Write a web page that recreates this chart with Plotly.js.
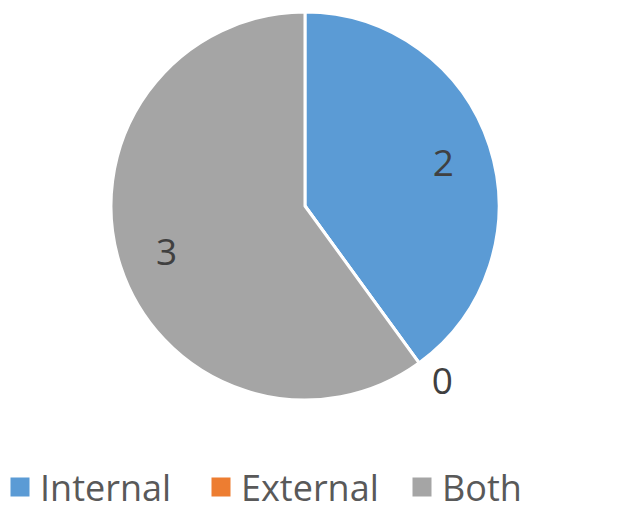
<!DOCTYPE html>
<html>
<head>
<meta charset="utf-8">
<script src="https://cdn.plot.ly/plotly-3.0.1.min.js"></script>
<style>html,body{margin:0;padding:0;background:#fff;}#chart{width:618px;height:518px;}</style>
</head>
<body>
<div id="chart"></div>
<script>
const categories = ["Internal", "External", "Both"];
const values = [2, 0, 3];
const colors = ["#5B9BD5", "#ED7D31", "#A5A5A5"];

const pieDomain = { x: [0, 0.987], y: [0, 1] };

// Full pie with fills, borders and legend
const basePie = {
  type: "pie",
  labels: categories,
  values: values,
  sort: false,
  direction: "clockwise",
  rotation: 0,
  marker: { colors: colors, line: { color: "#FFFFFF", width: 3 } },
  textinfo: "none",
  automargin: false,
  showlegend: true,
  domain: pieDomain,
  hoverinfo: "label+value"
};

// Transparent ring on top carrying only the data labels, pushed outward like the original
const labelPie = {
  type: "pie",
  labels: categories,
  values: values,
  sort: false,
  direction: "clockwise",
  rotation: 0,
  hole: 0.5,
  marker: { colors: ["rgba(0,0,0,0)", "rgba(0,0,0,0)", "rgba(0,0,0,0)"], line: { width: 0 } },
  textinfo: "value",
  textposition: ["inside", "outside", "inside"],
  insidetextorientation: "horizontal",
  textfont: { family: "Open Sans, sans-serif", size: 37, color: "#404040" },
  outsidetextfont: { family: "Open Sans, sans-serif", size: 37, color: "#404040" },
  automargin: false,
  showlegend: false,
  domain: pieDomain,
  hoverinfo: "skip"
};

const layout = {
  width: 618,
  height: 518,
  margin: { l: 0, r: 0, t: 12, b: 118, autoexpand: false },
  paper_bgcolor: "#FFFFFF",
  showlegend: true,
  legend: {
    orientation: "h",
    x: 0,
    xanchor: "left",
    y: -0.302,
    yanchor: "bottom",
    entrywidth: 156,
    entrywidthmode: "pixels",
    font: { family: "Open Sans, sans-serif", size: 36, color: "#595959" }
  }
};

Plotly.newPlot("chart", [basePie, labelPie], layout, { displayModeBar: false, staticPlot: true }).then(function (gd) {
  gd.querySelectorAll(".legendpie").forEach(function (p) {
    p.setAttribute("d", "M9.5,9.5H-9.5V-9.5H9.5Z");
    p.style.strokeWidth = "0";
  });
});
</script>
</body>
</html>
